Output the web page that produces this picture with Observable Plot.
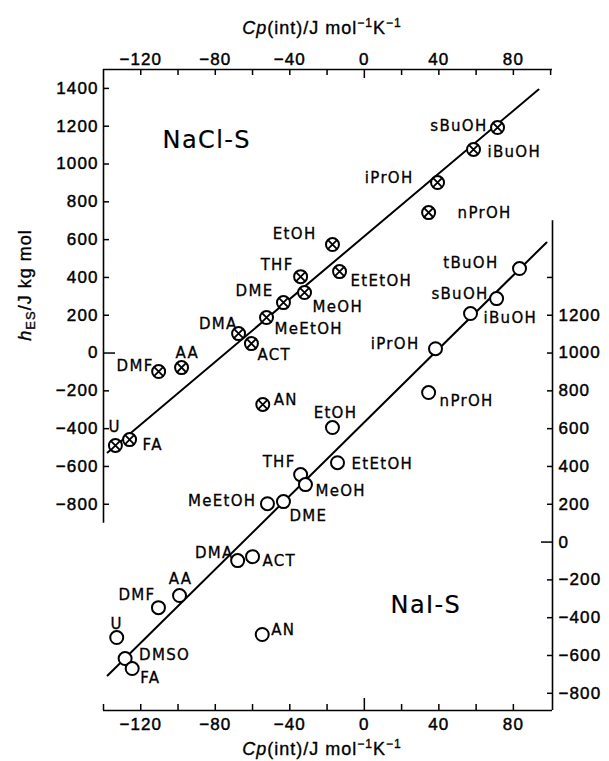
<!DOCTYPE html>
<html><head><meta charset="utf-8">
<script src="https://cdn.jsdelivr.net/npm/d3@7"></script>
<script src="https://cdn.jsdelivr.net/npm/@observablehq/plot@0.6"></script>
<style>
html, body { margin:0; padding:0; background:#fff; }
#chart svg { display:block; }
g[font-size="15"] text { letter-spacing: 1.3px; stroke: black; stroke-width: 0.3px; }
g[font-size="24"] text { letter-spacing: 1.4px; stroke: black; stroke-width: 0.2px; }
g[font-size="17"] text { letter-spacing: 1.1px; stroke: black; stroke-width: 0.45px; }
.ttl { letter-spacing: 1px; stroke: black; stroke-width: 0.35px; }
</style>
</head><body><div id="chart"></div>
<script>
// ---------- data ----------
// NaCl–S (left axis, h_ES / J kg mol)
const naclSolvents = ["sBuOH","iBuOH","iPrOH","nPrOH","EtOH","EtEtOH","THF","MeOH","DME","MeEtOH","DMA","ACT","DMF","AA","AN","U","FA"];
const naclCp = [71.5, 58.6, 39.3, 34.5, -17.1, -13.3, -34.2, -32.1, -43.4, -52.5, -67.5, -60.6, -110.4, -98.1, -54.5, -133.6, -126];
const naclH  = [1193, 1077, 902, 743, 574, 431, 404, 320, 267, 188, 103, 50, -98, -77, -272, -489, -458];
// NaI–S (right axis, h_ES / J kg mol)
const naiSolvents = ["tBuOH","sBuOH","iBuOH","iPrOH","nPrOH","EtOH","EtEtOH","THF","MeOH","DME","MeEtOH","DMA","ACT","DMF","AA","U","DMSO","FA","AN"];
const naiCp = [83.3, 71, 57, 38.2, 34.5, -17.1, -14.4, -34.2, -31.6, -43.4, -52, -68, -60, -110.5, -99.2, -132.9, -128.4, -124.6, -54.8];
const naiH  = [1447, 1288, 1209, 1023, 791, 606, 420, 357, 304, 214, 203, -98, -77, -347, -283, -505, -616, -669, -489];
// fitted lines (end points)
const naclFitCp = [-137.8, 93.5];
const naclFitH  = [-526, 1394];
const naiFitCp  = [-137.8, 97.8];
const naiFitH   = [-706, 1585];
// axes
const xDomain = [-140, 101];
const xTickLabels = [-120, -80, -40, 0, 40, 80];
const xTicksTop = [-120, -100, -80, -60, -40, -20, 20, 40, 60, 80, 100];
const xTicksBottom = [-140, -120, -100, -80, -60, -40, -20, 20, 40, 60, 80];
const leftTicks = [-800, -600, -400, -200, 200, 400, 600, 800, 1000, 1200, 1400];
const leftLabels = [-800, -600, -400, -200, 0, 200, 400, 600, 800, 1000, 1200, 1400];
const rightTicks = [-800, -600, -400, -200, 200, 400, 600, 800, 1000, 1200, 1400];
const rightLabels = [-800, -600, -400, -200, 0, 200, 400, 600, 800, 1000, 1200];
const leftAxisExtent = [-900, 1500];     // left-axis units
const rightAxisExtent = [-891, 1700];    // right-axis units
const NAI_OFFSET = 1000;                 // right axis = left axis + 1000
const yDomain = [-1891, 1500];           // in left-axis units

// ---------- label layout: [textAnchor, dx, dy] ----------
const naclLabelLayout = {
  sBuOH:["end",-10,3], iBuOH:["start",14,8], iPrOH:["end",-24,0], nPrOH:["start",29,5],
  EtOH:["end",-16,-6], EtEtOH:["start",11,14], THF:["end",-7,-7], MeOH:["start",8,19],
  DME:["end",-10,-7], MeEtOH:["start",8,16], DMA:["end",-1,-5], ACT:["start",6,16],
  DMF:["end",-5,-1], AA:["start",-6,-10], AN:["start",11,1], U:["start",-7,-13], FA:["start",13,10]
};
const naiLabelLayout = {
  tBuOH:["end",-21,-1], sBuOH:["end",-8,0], iBuOH:["start",13,9], iPrOH:["end",-16,0],
  nPrOH:["start",11,13], EtOH:["middle",3,-10], EtEtOH:["start",14,6], THF:["end",-5,-8],
  MeOH:["start",10,11], DME:["start",6,19], MeEtOH:["end",-11,2], DMA:["end",-4,-3],
  ACT:["start",10,9], DMF:["end",-3,-8], AA:["middle",1,-12], U:["middle",0,-9],
  DMSO:["start",14,1], FA:["start",8,14], AN:["start",9,0]
};
const panelLabels = ["NaCl-S", "NaI-S"];
const panelCp = [-108.3, 14.1];
const panelH = [1087, -1373];

// ---------- build ----------
const nacl = naclSolvents.map((s, i) => ({s, cp: naclCp[i], h: naclH[i]}));
const nai = naiSolvents.map((s, i) => ({s, cp: naiCp[i], h: naiH[i] - NAI_OFFSET}));
const naclFit = naclFitCp.map((c, i) => ({cp: c, h: naclFitH[i]}));
const naiFit = naiFitCp.map((c, i) => ({cp: c, h: naiFitH[i] - NAI_OFFSET}));
const fmt = d => d < 0 ? "\u2212" + Math.abs(d) : String(d);
const frameH = 641, frameW = 449;
const labelFont = "'DejaVu Sans', sans-serif";

const labelMarks = (rows, layout) => rows.map(r => {
  const [anchor, dx, dy] = layout[r.s];
  return Plot.text([r], {x: "cp", y: "h", text: "s", textAnchor: anchor, dx, dy,
    lineAnchor: "bottom", fontSize: 15, fontFamily: labelFont, fill: "black"});
});

const plot = Plot.plot({
  width: 609, height: 761,
  marginLeft: 103, marginRight: 57, marginTop: 69, marginBottom: 51,
  x: {domain: xDomain},
  y: {domain: yDomain},
  style: {fontFamily: "'Liberation Sans', Arial, sans-serif", background: "white", color: "black", overflow: "visible"},
  marks: [
    // frame pieces
    Plot.ruleY([yDomain[1]], {strokeWidth: 1.6}),
    Plot.ruleY([yDomain[0]], {strokeWidth: 1.6}),
    Plot.ruleX([xDomain[0]], {y1: leftAxisExtent[0], y2: leftAxisExtent[1], strokeWidth: 1.6}),
    Plot.ruleX([xDomain[1]], {y1: rightAxisExtent[0] - NAI_OFFSET, y2: rightAxisExtent[1] - NAI_OFFSET, strokeWidth: 1.6}),
    // ticks
    Plot.tickX(xTicksTop, {x: d => d, insetBottom: frameH - 6, strokeWidth: 1.5}),
    Plot.tickX([0], {x: d => d, insetBottom: frameH - 9, strokeWidth: 1.5}),
    Plot.tickX(xTicksBottom, {x: d => d, insetTop: frameH - 6, strokeWidth: 1.5}),
    Plot.tickX([0], {x: d => d, insetTop: frameH - 12, strokeWidth: 1.5}),
    Plot.tickY(leftTicks, {y: d => d, insetRight: frameW - 6, strokeWidth: 1.5}),
    Plot.tickY([0], {y: d => d, insetRight: frameW - 12, strokeWidth: 1.5}),
    Plot.tickY(rightTicks, {y: d => d - NAI_OFFSET, insetLeft: frameW - 5, strokeWidth: 1.5}),
    Plot.tickY([0], {y: d => d - NAI_OFFSET, insetLeft: frameW - 11, strokeWidth: 1.5}),
    // tick labels
    Plot.axisX({anchor: "top", ticks: xTickLabels, tickFormat: fmt, tickSize: 0, tickPadding: 5, label: null, fontSize: 17}),
    Plot.axisX({anchor: "bottom", ticks: xTickLabels, tickFormat: fmt, tickSize: 0, tickPadding: 7, label: null, fontSize: 17}),
    Plot.axisY({anchor: "left", ticks: leftLabels, tickFormat: fmt, tickSize: 0, tickPadding: 5, label: null, fontSize: 17}),
    Plot.axisY({anchor: "right", ticks: rightLabels.map(v => v - NAI_OFFSET), tickFormat: d => fmt(d + NAI_OFFSET), tickSize: 0, tickPadding: 6, label: null, fontSize: 17}),
    // fitted lines
    Plot.line(naclFit, {x: "cp", y: "h", strokeWidth: 2}),
    Plot.line(naiFit, {x: "cp", y: "h", strokeWidth: 2}),
    // points
    Plot.dot(nacl, {x: "cp", y: "h", r: 6.5, stroke: "black", strokeWidth: 2, fill: "white"}),
    Plot.dot(nacl, {x: "cp", y: "h", r: 4.3, symbol: "times", stroke: "black", strokeWidth: 1.8}),
    Plot.dot(nai, {x: "cp", y: "h", r: 6.5, stroke: "black", strokeWidth: 2, fill: "white"}),
    // point labels
    ...labelMarks(nacl, naclLabelLayout),
    ...labelMarks(nai, naiLabelLayout),
    // panel labels
    Plot.text(panelLabels, {x: (d, i) => panelCp[i], y: (d, i) => panelH[i], text: d => d,
      textAnchor: "start", lineAnchor: "bottom", fontSize: 24, fontFamily: labelFont})
  ]
});
document.getElementById("chart").appendChild(plot);

// axis titles (italics, sub/superscripts)
const svg = d3.select(plot);
function xTitle(y) {
  const t = svg.append("text").attr("class", "ttl").attr("x", 322).attr("y", y)
    .attr("text-anchor", "middle").attr("font-size", 18).attr("fill", "black");
  t.append("tspan").attr("font-style", "italic").text("Cp");
  t.append("tspan").text("(int)/J mol");
  t.append("tspan").attr("dy", -7).attr("font-size", 12).text("\u22121");
  t.append("tspan").attr("dy", 7).text("K");
  t.append("tspan").attr("dy", -7).attr("font-size", 12).text("\u22121");
}
xTitle(34);
xTitle(755);
const yt = svg.append("text").attr("class", "ttl").attr("transform", "translate(31,285) rotate(-90)")
  .attr("text-anchor", "middle").attr("font-size", 18).attr("fill", "black");
yt.append("tspan").attr("font-style", "italic").text("h");
yt.append("tspan").attr("dy", 4).attr("font-size", 13).text("ES");
yt.append("tspan").attr("dy", -4).text("/J kg mol");
</script></body></html>
